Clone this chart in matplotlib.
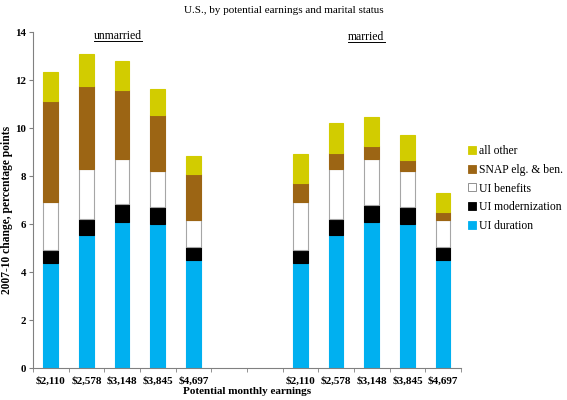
import matplotlib
matplotlib.use("Agg")
import matplotlib.pyplot as plt
from matplotlib.lines import Line2D
import numpy as np

plt.rcParams['font.family'] = ['Liberation Serif', 'DejaVu Serif']

# ---- data ----
categories = ['$2,110', '$2,578', '$3,148', '$3,845', '$4,697', '', '',
              '$2,110', '$2,578', '$3,148', '$3,845', '$4,697']
series_names = ['UI duration', 'UI modernization', 'UI benefits', 'SNAP elg. & ben.', 'all other']
# values per category (NaN for the empty gap categories)
ui_duration      = [4.39, 5.54, 6.10, 6.01, 4.51, np.nan, np.nan, 4.39, 5.56, 6.10, 6.01, 4.51]
ui_modernization = [0.53, 0.65, 0.72, 0.68, 0.53, np.nan, np.nan, 0.51, 0.65, 0.71, 0.70, 0.53]
ui_benefits      = [2.01, 2.10, 1.87, 1.53, 1.11, np.nan, np.nan, 2.03, 2.08, 1.88, 1.51, 1.11]
snap             = [4.19, 3.47, 2.88, 2.34, 1.93, np.nan, np.nan, 0.79, 0.65, 0.55, 0.45, 0.36]
all_other        = [1.21, 1.31, 1.21, 1.05, 0.77, np.nan, np.nan, 1.20, 1.28, 1.20, 1.02, 0.77]
group_labels = ['unmarried', 'married']

colors = ['#00B0F0', '#000000', '#FFFFFF', '#9C6514', '#D2CC00']
edges = ['#00B0F0', '#000000', '#A6A6A6', '#9C6514', '#D2CC00']

fig = plt.figure(figsize=(5.67, 4.0), dpi=100)
ax = fig.add_axes([0.058, 0.08, 0.755, 0.84])

x = np.arange(len(categories))
bottom = np.zeros(len(categories))
handles = []
for vals, c, ec, name in zip([ui_duration, ui_modernization, ui_benefits, snap, all_other],
                             colors, edges, series_names):
    v = np.array(vals, dtype=float)
    m = ~np.isnan(v)
    ax.bar(x[m], v[m], 0.41, bottom=bottom[m], color=c, edgecolor=ec, linewidth=0.8, zorder=2)
    bottom[m] += v[m]
    handles.append(Line2D([], [], marker='s', linestyle='none', markersize=5.5,
                          markerfacecolor=c, markeredgecolor=ec if c != '#FFFFFF' else '#808080',
                          markeredgewidth=0.6, label=name))

ax.set_xlim(-0.5, len(categories) - 0.5)
ax.set_ylim(0, 14)
ax.set_yticks(np.arange(0, 15, 2))
ax.set_xticks(x)
ax.set_xticklabels([c.replace('$', r'\$') for c in categories], fontweight='bold', fontsize=8)
ax.set_xticks(np.arange(-0.5, len(categories), 1), minor=True)
ax.tick_params(axis='x', which='major', length=0, pad=6)
ax.tick_params(axis='x', which='minor', length=3, color='#808080', direction='out')
ax.tick_params(axis='y', length=3, color='#808080', direction='out', labelsize=7.8, pad=2)
for lbl in ax.get_yticklabels():
    lbl.set_fontweight('bold')

for s in ['top', 'right']:
    ax.spines[s].set_visible(False)
for s in ['left', 'bottom']:
    ax.spines[s].set_color('#808080')
    ax.spines[s].set_linewidth(0.8)

ax.set_ylabel('2007-10 change, percentage points', fontweight='bold', fontsize=8.3)
ax.yaxis.set_label_coords(-0.046, 0.47)
ax.set_xlabel('Potential monthly earnings', fontweight='bold', fontsize=8, labelpad=1)
fig.text(0.5, 0.985, 'U.S., by potential earnings and marital status', ha='center', va='top', fontsize=8)

leg = fig.legend(handles=handles[::-1], loc='upper left', bbox_to_anchor=(0.818, 0.648),
                 frameon=False, fontsize=8.4, handlelength=0.6, handletextpad=0.3,
                 labelspacing=0.56, borderaxespad=0)

# group labels, underlined
gtexts = []
for gx, lab, gy in [(1.88, group_labels[0], 13.85), (8.85, group_labels[1], 13.8)]:
    t = ax.text(gx, gy, lab, ha='center', va='center', fontsize=8.5)
    gtexts.append(t)
fig.canvas.draw()
r = fig.canvas.get_renderer()
inv = fig.transFigure.inverted()
for t in gtexts:
    bb = t.get_window_extent(r)
    (x0, y0), (x1, y1) = inv.transform([(bb.x0, bb.y0 + 1), (bb.x1, bb.y0 + 1)])
    fig.add_artist(Line2D([x0, x1], [y0, y1], color='black', linewidth=0.7))

fig.savefig('out.png', dpi=100)
